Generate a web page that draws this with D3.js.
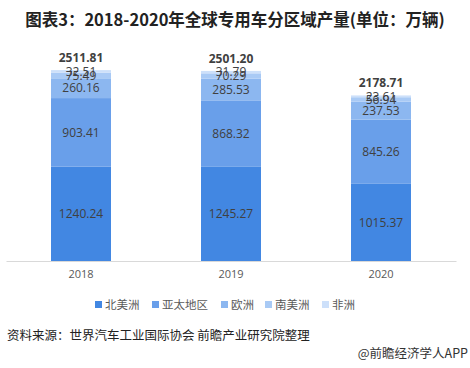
<!DOCTYPE html>
<html><head><meta charset="utf-8">
<script src="https://cdn.jsdelivr.net/npm/d3@7"></script>
<style>body{margin:0;background:#fff;}svg{display:block;}</style>
</head><body>
<script>
const years = ["2018", "2019", "2020"];
const regions = ["北美洲", "亚太地区", "欧洲", "南美洲", "非洲"];
const northAmerica = [1240.24, 1245.27, 1015.37];
const asiaPacific = [903.41, 868.32, 845.26];
const europe = [260.16, 285.53, 237.53];
const southAmerica = [75.49, 70.29, 56.94];
const africa = [32.51, 31.79, 23.61];
const totals = ["2511.81", "2501.20", "2178.71"];
const colors = ["#4287e2", "#699fea", "#8cb7f0", "#a9caf5", "#cde0fa"];

const series = [northAmerica, asiaPacific, europe, southAmerica, africa];
const W = 470, H = 368;
const svg = d3.select("body").append("svg").attr("width", W).attr("height", H);
const cjk = "'Noto Sans CJK SC', 'Microsoft YaHei', sans-serif";
const num = "'Open Sans', 'Noto Sans', sans-serif";

svg.append("text").attr("x", 235).attr("y", 26).attr("text-anchor", "middle")
  .attr("font-family", cjk).attr("font-weight", "bold").attr("font-size", 16.5)
  .attr("fill", "#222").text("图表3：2018-2020年全球专用车分区域产量(单位：万辆)");

const x = d3.scaleBand().domain(years).range([6, 456]).paddingInner(0.6).paddingOuter(0.3);
const y = d3.scaleLinear().domain([0, 3000]).range([261, 33]);

const rows = years.map((yr, i) => {
  const o = {year: yr};
  regions.forEach((r, j) => o[r] = series[j][i]);
  return o;
});
const stack = d3.stack().keys(regions)(rows);

const g = svg.append("g");
stack.forEach((layer, j) => {
  g.selectAll(null).data(layer).enter().append("rect")
    .attr("x", d => x(d.data.year)).attr("width", x.bandwidth())
    .attr("y", d => y(d[1])).attr("height", d => y(d[0]) - y(d[1]))
    .attr("fill", colors[j]);
});
stack.forEach((layer, j) => {
  g.selectAll(null).data(layer).enter().append("text")
    .attr("x", d => x(d.data.year) + x.bandwidth() / 2)
    .attr("y", d => (y(d[0]) + y(d[1])) / 2)
    .attr("dy", "0.35em").attr("text-anchor", "middle")
    .attr("font-family", num).attr("font-size", 12).attr("fill", "#404040")
    .text(d => (d[1] - d[0]).toFixed(2));
});
g.selectAll(null).data(years).enter().append("text")
  .attr("x", d => x(d) + x.bandwidth() / 2)
  .attr("y", (d, i) => y(d3.sum(series, s => s[i])) - 8)
  .attr("text-anchor", "middle").attr("font-family", num).attr("font-weight", "bold")
  .attr("font-size", 12).attr("fill", "#404040")
  .text((d, i) => totals[i]);

const xAxis = svg.append("g").attr("transform", "translate(0,261)")
  .call(d3.axisBottom(x).tickSize(0).tickPadding(9));
xAxis.select(".domain").attr("stroke", "#d9d9d9");
xAxis.selectAll("text").attr("font-family", num).attr("font-size", 11).attr("fill", "#595959");

const legendX = [95, 152, 221, 265, 322];
const lg = svg.append("g");
regions.forEach((r, j) => {
  lg.append("rect").attr("x", legendX[j]).attr("y", 301).attr("width", 7).attr("height", 7).attr("fill", colors[j]);
  lg.append("text").attr("x", legendX[j] + 10).attr("y", 309).attr("font-family", cjk)
    .attr("font-size", 11.5).attr("fill", "#595959").text(r);
});

svg.append("text").attr("x", 7).attr("y", 340).attr("font-family", cjk).attr("font-size", 12.5)
  .attr("fill", "#222").text("资料来源：世界汽车工业国际协会 前瞻产业研究院整理");
svg.append("text").attr("x", 468).attr("y", 358).attr("text-anchor", "end").attr("font-family", cjk)
  .attr("font-size", 12.5).attr("fill", "#333").text("@前瞻经济学人APP");
</script>
</body></html>
